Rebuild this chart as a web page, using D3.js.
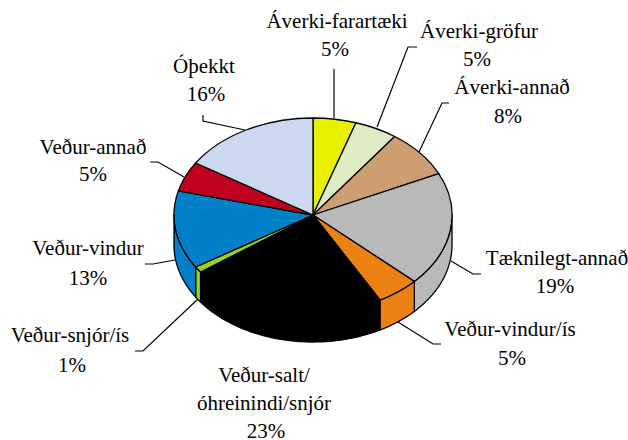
<!DOCTYPE html>
<html>
<head>
<meta charset="utf-8">
<script src="https://cdn.jsdelivr.net/npm/d3@7"></script>
<style>
html, body { margin: 0; padding: 0; background: #fff; }
</style>
</head>
<body>
<svg id="chart" width="628" height="440"></svg>
<script>
var categories = ['Áverki-farartæki', 'Áverki-gröfur', 'Áverki-annað', 'Tæknilegt-annað', 'Veður-vindur/ís',
    'Veður-salt/óhreinindi/snjór', 'Veður-snjór/ís', 'Veður-vindur', 'Veður-annað', 'Óþekkt'];
var values = [5, 5, 8, 19, 5, 23, 1, 13, 5, 16];
var colors = ['#e8f000', '#deebc3', '#cc9e72', '#b9b9b9', '#ec8113', '#000000', '#97d420', '#0080c8', '#c0001f', '#cbd8f0'];

// label lines, the percent goes under them
var labelLines = [
    ['Áverki-farartæki'], ['Áverki-gröfur'], ['Áverki-annað'], ['Tæknilegt-annað'], ['Veður-vindur/ís'],
    ['Veður-salt/', 'óhreinindi/snjór'], ['Veður-snjór/ís'], ['Veður-vindur'], ['Veður-annað'], ['Óþekkt']
];
var labelX = [337, 479, 512, 557, 510, 264, 70, 88, 93, 204];
var percentX = [335, 477, 508, 555, 512, 266, 72, 88, 93, 206];
var labelY = [28, 38, 94, 265, 336, 382, 342, 255, 154, 73];
var lineGap = [28, 28, 29, 28, 29, 28, 30, 30, 27, 28];
var leaders = [
    [[334, 69], [334, 118]],
    [[417, 47], [408, 47], [377, 127]],
    [[449, 103], [442, 103], [419, 152]],
    [[451, 261], [473, 274], [481, 274]],
    [[398, 322], [433, 344], [441, 344]],
    [[198, 299], [143, 351], [135, 351]],
    [[175, 260], [153, 264], [145, 264]],
    [[184, 177], [158, 162], [150, 162]],
    [[245, 130], [203, 121], [203, 115]]
];

var cx = 313, cy = 215, rx = 139, ry = 97, depth = 30;

var svg = d3.select('#chart');

var pie = d3.pie().sort(null).value(function(d) { return d; });
var slices = pie(values);

var arc = d3.arc().innerRadius(0).outerRadius(rx);

// x and y of a clock angle on the rim
function rimX(a) { return cx + rx * Math.sin(a); }
function rimY(a) { return cy - ry * Math.cos(a); }

// walls first, only the front half of the rim shows
var wallLine = d3.line().x(function(d) { return d[0]; }).y(function(d) { return d[1]; });
function wallPath(d) {
    var a0 = Math.max(d.startAngle, Math.PI / 2);
    var a1 = Math.min(d.endAngle, Math.PI * 3 / 2);
    if (a1 <= a0) return null;
    var angles = d3.range(a0, a1, 0.02).concat([a1]);
    var top = angles.map(function(a) { return [rimX(a), rimY(a)]; });
    var bottom = angles.slice().reverse().map(function(a) { return [rimX(a), rimY(a) + depth]; });
    return wallLine(top.concat(bottom)) + 'Z';
}

svg.append('g').selectAll('path')
    .data(slices)
    .enter()
    .append('path')
    .attr('d', wallPath)
    .attr('fill', function(d, i) { return colors[i]; })
    .attr('stroke', '#000')
    .attr('stroke-width', 1.3)
    .attr('stroke-linejoin', 'round');

svg.append('g')
    .attr('transform', 'translate(' + cx + ',' + cy + ') scale(1,' + (ry / rx) + ')')
    .selectAll('path')
    .data(slices)
    .enter()
    .append('path')
    .attr('d', arc)
    .attr('fill', function(d, i) { return colors[i]; })
    .attr('stroke', '#000')
    .attr('stroke-width', 1.3)
    .attr('stroke-linejoin', 'round')
    .attr('vector-effect', 'non-scaling-stroke');

svg.append('g').selectAll('path')
    .data(leaders)
    .enter()
    .append('path')
    .attr('d', wallLine)
    .attr('fill', 'none')
    .attr('stroke', '#000')
    .attr('stroke-width', 1.2);

var labels = svg.append('g').selectAll('text')
    .data(categories)
    .enter()
    .append('text')
    .style('font-family', '"Liberation Serif"')
    .style('font-size', '21px')
    .style('fill', '#000')
    .attr('text-anchor', 'middle')
    .attr('y', function(d, i) { return labelY[i]; });

labels.each(function(d, i) {
    var t = d3.select(this);
    var lines = labelLines[i];
    lines.forEach(function(line, j) {
        t.append('tspan')
            .attr('x', labelX[i])
            .attr('y', labelY[i] + j * lineGap[i])
            .text(line);
    });
    t.append('tspan')
        .attr('x', percentX[i])
        .attr('y', labelY[i] + lines.length * lineGap[i])
        .text(values[i] + '%');
});
</script>
</body>
</html>
